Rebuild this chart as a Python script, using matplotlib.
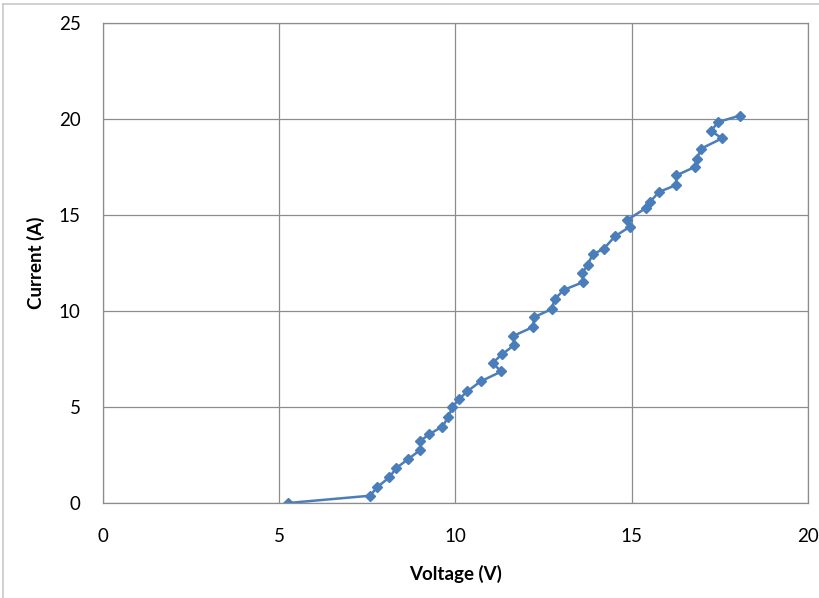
import matplotlib.pyplot as plt
from matplotlib.lines import Line2D

# Voltage (V) and current (A) readings
voltage = [5.25, 7.58, 7.78, 8.12, 8.32, 8.66, 9.00, 9.00, 9.26, 9.63,
           9.80, 9.91, 10.11, 10.33, 10.71, 11.30, 11.05, 11.33, 11.67, 11.64,
           12.19, 12.24, 12.73, 12.81, 13.07, 13.63, 13.60, 13.75, 13.89, 14.20,
           14.53, 14.96, 14.87, 15.40, 15.52, 15.77, 16.26, 16.26, 16.79, 16.85,
           16.96, 17.56, 17.25, 17.45, 18.07]
current = [0.0, 0.38, 0.83, 1.33, 1.82, 2.29, 2.76, 3.23, 3.59, 3.98,
           4.50, 5.0, 5.42, 5.81, 6.33, 6.85, 7.29, 7.76, 8.23, 8.70,
           9.16, 9.69, 10.10, 10.60, 11.10, 11.51, 11.98, 12.40, 12.95, 13.23,
           13.90, 14.40, 14.74, 15.36, 15.68, 16.20, 16.56, 17.06, 17.50, 17.92,
           18.45, 18.99, 19.38, 19.84, 20.18]

plt.rcParams['font.family'] = ['Lato', 'DejaVu Sans']

fig = plt.figure(figsize=(8.2, 5.98), dpi=100)
ax = fig.add_axes([103/820, 1 - 503/598, 705/820, 480/598])

ax.plot(voltage, current, color='#4A7EBB', marker='D', markersize=5.5,
        linewidth=1.8)

ax.set_xlim(0, 20)
ax.set_ylim(0, 25)
ax.set_xticks([0, 5, 10, 15, 20])
ax.set_yticks([0, 5, 10, 15, 20, 25])
ax.grid(True, color='#8c8c8c', linewidth=0.9)
ax.set_axisbelow(True)
for s in ax.spines.values():
    s.set_color('#8c8c8c')
    s.set_linewidth(0.9)
ax.tick_params(length=0, labelsize=13.5, colors='black')
ax.tick_params(axis='x', pad=18)
ax.tick_params(axis='y', pad=16)

ax.set_xlabel('Voltage (V)', fontsize=13.5, fontweight='bold', labelpad=14)
ax.set_ylabel('Current (A)', fontsize=13.5, fontweight='bold', labelpad=10)

# outer chart border (partially cropped)
fig.add_artist(Line2D([3/820, 3/820], [0, 1 - 4/598], color='#c8c8c8', linewidth=1.2))
fig.add_artist(Line2D([3/820, 1], [1 - 4/598, 1 - 4/598], color='#c8c8c8', linewidth=1.2))

fig.savefig('out.png', dpi=100)
